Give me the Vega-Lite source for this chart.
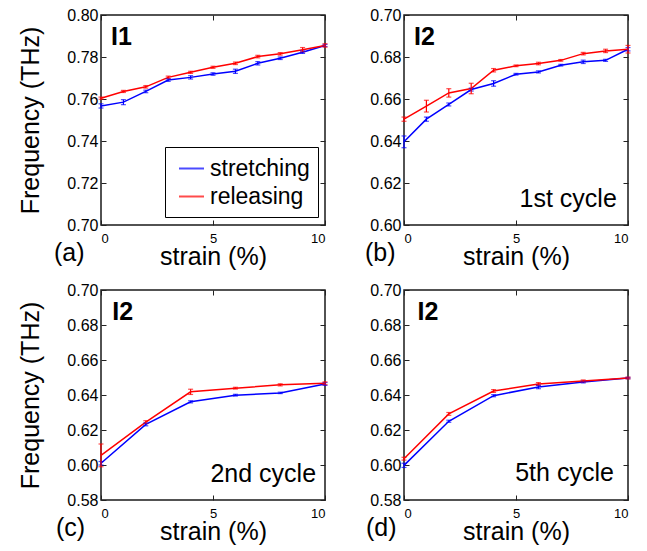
{
  "$schema": "https://vega.github.io/schema/vega-lite/v6.json",
  "padding": {"left": 18, "top": 6, "right": 0, "bottom": 0},
  "config": {
    "font": "Liberation Sans",
    "view": {"stroke": "#1a1a1a", "strokeWidth": 1.5},
    "axis": {"domain": false, "grid": false, "tickColor": "#222", "tickSize": -5, "tickWidth": 1, "labelColor": "black", "titleColor": "black", "labelFont": "Liberation Sans", "titleFont": "Liberation Sans", "titleFontWeight": "normal"},
    "title": {"font": "Liberation Sans", "fontSize": 25, "fontWeight": "normal", "color": "black", "offset": 0, "frame": "group"}
  },
  "datasets": {
    "a": [
      {"series": "stretching", "strain": 0, "freq": 0.7567, "err": 0.001},
      {"series": "stretching", "strain": 1, "freq": 0.7585, "err": 0.0012},
      {"series": "stretching", "strain": 2, "freq": 0.7636, "err": 0.0006},
      {"series": "stretching", "strain": 3, "freq": 0.769, "err": 0.0006},
      {"series": "stretching", "strain": 4, "freq": 0.7703, "err": 0.0008},
      {"series": "stretching", "strain": 5, "freq": 0.7719, "err": 0.0006},
      {"series": "stretching", "strain": 6, "freq": 0.7732, "err": 0.001},
      {"series": "stretching", "strain": 7, "freq": 0.777, "err": 0.0008},
      {"series": "stretching", "strain": 8, "freq": 0.7794, "err": 0.0006},
      {"series": "stretching", "strain": 9, "freq": 0.7823, "err": 0.0006},
      {"series": "stretching", "strain": 10, "freq": 0.7855, "err": 0.0005},
      {"series": "releasing", "strain": 0, "freq": 0.7604, "err": 0.0005},
      {"series": "releasing", "strain": 1, "freq": 0.7636, "err": 0.0005},
      {"series": "releasing", "strain": 2, "freq": 0.7658, "err": 0.0006},
      {"series": "releasing", "strain": 3, "freq": 0.7703, "err": 0.0006},
      {"series": "releasing", "strain": 4, "freq": 0.7727, "err": 0.0005},
      {"series": "releasing", "strain": 5, "freq": 0.7751, "err": 0.0005},
      {"series": "releasing", "strain": 6, "freq": 0.777, "err": 0.0006},
      {"series": "releasing", "strain": 7, "freq": 0.7802, "err": 0.0006},
      {"series": "releasing", "strain": 8, "freq": 0.7815, "err": 0.0006},
      {"series": "releasing", "strain": 9, "freq": 0.7835, "err": 0.001},
      {"series": "releasing", "strain": 10, "freq": 0.7855, "err": 0.0008}
    ],
    "b": [
      {"series": "stretching", "strain": 0, "freq": 0.6396, "err": 0.0028},
      {"series": "stretching", "strain": 1, "freq": 0.6504, "err": 0.001},
      {"series": "stretching", "strain": 2, "freq": 0.6574, "err": 0.0007},
      {"series": "stretching", "strain": 3, "freq": 0.6645, "err": 0.0007},
      {"series": "stretching", "strain": 4, "freq": 0.6674, "err": 0.0013},
      {"series": "stretching", "strain": 5, "freq": 0.6718, "err": 0.0004},
      {"series": "stretching", "strain": 6, "freq": 0.6729, "err": 0.0005},
      {"series": "stretching", "strain": 7, "freq": 0.6761, "err": 0.0004},
      {"series": "stretching", "strain": 8, "freq": 0.6777, "err": 0.0008},
      {"series": "stretching", "strain": 9, "freq": 0.6784, "err": 0.0005},
      {"series": "stretching", "strain": 10, "freq": 0.6837, "err": 0.0008},
      {"series": "releasing", "strain": 0, "freq": 0.6504, "err": 0.001},
      {"series": "releasing", "strain": 1, "freq": 0.6566, "err": 0.0028},
      {"series": "releasing", "strain": 2, "freq": 0.6629, "err": 0.002},
      {"series": "releasing", "strain": 3, "freq": 0.665, "err": 0.0025},
      {"series": "releasing", "strain": 4, "freq": 0.6737, "err": 0.0008},
      {"series": "releasing", "strain": 5, "freq": 0.6758, "err": 0.0004},
      {"series": "releasing", "strain": 6, "freq": 0.6769, "err": 0.0006},
      {"series": "releasing", "strain": 7, "freq": 0.6784, "err": 0.0004},
      {"series": "releasing", "strain": 8, "freq": 0.6816, "err": 0.0006},
      {"series": "releasing", "strain": 9, "freq": 0.6829, "err": 0.0008},
      {"series": "releasing", "strain": 10, "freq": 0.6837, "err": 0.0018}
    ],
    "c": [
      {"series": "stretching", "strain": 0, "freq": 0.601, "err": 0.001},
      {"series": "stretching", "strain": 2, "freq": 0.6232, "err": 0.0008},
      {"series": "stretching", "strain": 4, "freq": 0.6361, "err": 0.0006},
      {"series": "stretching", "strain": 6, "freq": 0.6399, "err": 0.0005},
      {"series": "stretching", "strain": 8, "freq": 0.6412, "err": 0.0004},
      {"series": "stretching", "strain": 10, "freq": 0.6463, "err": 0.0008},
      {"series": "releasing", "strain": 0, "freq": 0.6055, "err": 0.0065},
      {"series": "releasing", "strain": 2, "freq": 0.6245, "err": 0.0008},
      {"series": "releasing", "strain": 4, "freq": 0.6418, "err": 0.0015},
      {"series": "releasing", "strain": 6, "freq": 0.6439, "err": 0.0005},
      {"series": "releasing", "strain": 8, "freq": 0.6458, "err": 0.0006},
      {"series": "releasing", "strain": 10, "freq": 0.6467, "err": 0.0008}
    ],
    "d": [
      {"series": "stretching", "strain": 0, "freq": 0.5998, "err": 0.0012},
      {"series": "stretching", "strain": 2, "freq": 0.625, "err": 0.0006},
      {"series": "stretching", "strain": 4, "freq": 0.6396, "err": 0.0006},
      {"series": "stretching", "strain": 6, "freq": 0.6446, "err": 0.001},
      {"series": "stretching", "strain": 8, "freq": 0.6474, "err": 0.0005},
      {"series": "stretching", "strain": 10, "freq": 0.6497, "err": 0.0004},
      {"series": "releasing", "strain": 0, "freq": 0.6036, "err": 0.0008},
      {"series": "releasing", "strain": 2, "freq": 0.6292, "err": 0.0008},
      {"series": "releasing", "strain": 4, "freq": 0.6423, "err": 0.0008},
      {"series": "releasing", "strain": 6, "freq": 0.6463, "err": 0.0008},
      {"series": "releasing", "strain": 8, "freq": 0.648, "err": 0.0006},
      {"series": "releasing", "strain": 10, "freq": 0.6497, "err": 0.0005}
    ]
  },
  "concat": [
    {
      "width": 224, "height": 210,
      "data": {"name": "a"},
      "title": {"text": "(a)", "orient": "bottom", "anchor": "start", "dx": -47, "dy": -32},
      "layer": [
        {"mark": {"type": "line", "strokeWidth": 1.5},
         "encoding": {
           "x": {"field": "strain", "type": "quantitative", "scale": {"domain": [0, 10], "nice": false}, "axis": {"orient": "bottom", "values": [0, 5, 10], "format": "d", "labelFontSize": 13, "labelPadding": 12, "title": "strain (%)", "titleFontSize": 25, "titlePadding": -1}},
           "y": {"field": "freq", "type": "quantitative", "scale": {"domain": [0.7, 0.8], "nice": false, "zero": false}, "axis": {"orient": "left", "values": [0.7, 0.72, 0.74, 0.76, 0.78, 0.8], "format": ".2f", "labelFontSize": 16, "labelPadding": 8, "title": "Frequency (THz)", "titleFontSize": 25, "titlePadding": 23}},
           "color": {"field": "series", "type": "nominal", "scale": {"domain": ["stretching", "releasing"], "range": ["#0000ff", "#ff0000"]},
             "legend": {"orient": "none", "legendX": 64, "legendY": 132, "title": null, "symbolType": "stroke", "symbolSize": 625, "symbolStrokeWidth": 2, "symbolOffset": 5, "labelFontSize": 23, "labelOffset": 5, "padding": 8, "rowPadding": 2, "strokeColor": "black", "fillColor": "white", "labelFont": "Liberation Sans", "labelColor": "black", "labelLimit": 300}}
         }},
        {"mark": {"type": "errorbar", "ticks": true, "size": 5, "thickness": 1.2},
         "encoding": {
           "x": {"field": "strain", "type": "quantitative", "axis": {"orient": "top", "values": [0, 5, 10], "labels": false, "title": null}},
           "y": {"field": "freq", "type": "quantitative", "axis": {"orient": "right", "values": [0.7, 0.72, 0.74, 0.76, 0.78, 0.8], "labels": false, "title": null}},
           "yError": {"field": "err"},
           "color": {"field": "series", "type": "nominal"}
         }},
        {"data": {"values": [{"label": "I1"}]},
         "mark": {"type": "text", "fontSize": 25, "fontWeight": "bold", "align": "left", "baseline": "top", "color": "black"},
         "encoding": {"x": {"datum": 0.45, "type": "quantitative", "axis": null}, "y": {"datum": 0.7952, "type": "quantitative", "axis": null}, "text": {"field": "label"}}}
      ],
      "resolve": {"axis": {"x": "independent", "y": "independent"}}
    },
    {
      "width": 224, "height": 210,
      "data": {"name": "b"},
      "title": {"text": "(b)", "orient": "bottom", "anchor": "start", "dx": -39, "dy": -32},
      "layer": [
        {"mark": {"type": "line", "strokeWidth": 1.5},
         "encoding": {
           "x": {"field": "strain", "type": "quantitative", "scale": {"domain": [0, 10], "nice": false}, "axis": {"orient": "bottom", "values": [0, 5, 10], "format": "d", "labelFontSize": 13, "labelPadding": 12, "title": "strain (%)", "titleFontSize": 25, "titlePadding": -1}},
           "y": {"field": "freq", "type": "quantitative", "scale": {"domain": [0.6, 0.7], "nice": false, "zero": false}, "axis": {"orient": "left", "values": [0.6, 0.62, 0.64, 0.66, 0.68, 0.7], "format": ".2f", "labelFontSize": 16, "labelPadding": 8, "title": null}},
           "color": {"field": "series", "type": "nominal", "scale": {"domain": ["stretching", "releasing"], "range": ["#0000ff", "#ff0000"]}, "legend": null}
         }},
        {"mark": {"type": "errorbar", "ticks": true, "size": 5, "thickness": 1.2},
         "encoding": {
           "x": {"field": "strain", "type": "quantitative", "axis": {"orient": "top", "values": [0, 5, 10], "labels": false, "title": null}},
           "y": {"field": "freq", "type": "quantitative", "axis": {"orient": "right", "values": [0.6, 0.62, 0.64, 0.66, 0.68, 0.7], "labels": false, "title": null}},
           "yError": {"field": "err"},
           "color": {"field": "series", "type": "nominal", "legend": null}
         }},
        {"data": {"values": [{"label": "I2"}]},
         "mark": {"type": "text", "fontSize": 25, "fontWeight": "bold", "align": "left", "baseline": "top", "color": "black"},
         "encoding": {"x": {"datum": 0.45, "type": "quantitative", "axis": null}, "y": {"datum": 0.6952, "type": "quantitative", "axis": null}, "text": {"field": "label"}}},
        {"data": {"values": [{"label": "1st cycle"}]},
         "mark": {"type": "text", "fontSize": 25, "align": "right", "baseline": "alphabetic", "color": "black"},
         "encoding": {"x": {"datum": 9.5, "type": "quantitative", "axis": null}, "y": {"datum": 0.6085, "type": "quantitative", "axis": null}, "text": {"field": "label"}}}
      ],
      "resolve": {"axis": {"x": "independent", "y": "independent"}}
    },
    {
      "width": 224, "height": 210,
      "data": {"name": "c"},
      "title": {"text": "(c)", "orient": "bottom", "anchor": "start", "dx": -45, "dy": -32},
      "layer": [
        {"mark": {"type": "line", "strokeWidth": 1.5},
         "encoding": {
           "x": {"field": "strain", "type": "quantitative", "scale": {"domain": [0, 10], "nice": false}, "axis": {"orient": "bottom", "values": [0, 5, 10], "format": "d", "labelFontSize": 13, "labelPadding": 12, "title": "strain (%)", "titleFontSize": 25, "titlePadding": -1}},
           "y": {"field": "freq", "type": "quantitative", "scale": {"domain": [0.58, 0.7], "nice": false, "zero": false}, "axis": {"orient": "left", "values": [0.58, 0.6, 0.62, 0.64, 0.66, 0.68, 0.7], "format": ".2f", "labelFontSize": 16, "labelPadding": 8, "title": "Frequency (THz)", "titleFontSize": 25, "titlePadding": 23}},
           "color": {"field": "series", "type": "nominal", "scale": {"domain": ["stretching", "releasing"], "range": ["#0000ff", "#ff0000"]}, "legend": null}
         }},
        {"mark": {"type": "errorbar", "ticks": true, "size": 5, "thickness": 1.2},
         "encoding": {
           "x": {"field": "strain", "type": "quantitative", "axis": {"orient": "top", "values": [0, 5, 10], "labels": false, "title": null}},
           "y": {"field": "freq", "type": "quantitative", "axis": {"orient": "right", "values": [0.58, 0.6, 0.62, 0.64, 0.66, 0.68, 0.7], "labels": false, "title": null}},
           "yError": {"field": "err"},
           "color": {"field": "series", "type": "nominal", "legend": null}
         }},
        {"data": {"values": [{"label": "I2"}]},
         "mark": {"type": "text", "fontSize": 25, "fontWeight": "bold", "align": "left", "baseline": "top", "color": "black"},
         "encoding": {"x": {"datum": 0.5, "type": "quantitative", "axis": null}, "y": {"datum": 0.6943, "type": "quantitative", "axis": null}, "text": {"field": "label"}}},
        {"data": {"values": [{"label": "2nd cycle"}]},
         "mark": {"type": "text", "fontSize": 25, "align": "right", "baseline": "alphabetic", "color": "black"},
         "encoding": {"x": {"datum": 9.6, "type": "quantitative", "axis": null}, "y": {"datum": 0.5901, "type": "quantitative", "axis": null}, "text": {"field": "label"}}}
      ],
      "resolve": {"axis": {"x": "independent", "y": "independent"}}
    },
    {
      "width": 224, "height": 210,
      "data": {"name": "d"},
      "title": {"text": "(d)", "orient": "bottom", "anchor": "start", "dx": -38, "dy": -32},
      "layer": [
        {"mark": {"type": "line", "strokeWidth": 1.5},
         "encoding": {
           "x": {"field": "strain", "type": "quantitative", "scale": {"domain": [0, 10], "nice": false}, "axis": {"orient": "bottom", "values": [0, 5, 10], "format": "d", "labelFontSize": 13, "labelPadding": 12, "title": "strain (%)", "titleFontSize": 25, "titlePadding": -1}},
           "y": {"field": "freq", "type": "quantitative", "scale": {"domain": [0.58, 0.7], "nice": false, "zero": false}, "axis": {"orient": "left", "values": [0.58, 0.6, 0.62, 0.64, 0.66, 0.68, 0.7], "format": ".2f", "labelFontSize": 16, "labelPadding": 8, "title": null}},
           "color": {"field": "series", "type": "nominal", "scale": {"domain": ["stretching", "releasing"], "range": ["#0000ff", "#ff0000"]}, "legend": null}
         }},
        {"mark": {"type": "errorbar", "ticks": true, "size": 5, "thickness": 1.2},
         "encoding": {
           "x": {"field": "strain", "type": "quantitative", "axis": {"orient": "top", "values": [0, 5, 10], "labels": false, "title": null}},
           "y": {"field": "freq", "type": "quantitative", "axis": {"orient": "right", "values": [0.58, 0.6, 0.62, 0.64, 0.66, 0.68, 0.7], "labels": false, "title": null}},
           "yError": {"field": "err"},
           "color": {"field": "series", "type": "nominal", "legend": null}
         }},
        {"data": {"values": [{"label": "I2"}]},
         "mark": {"type": "text", "fontSize": 25, "fontWeight": "bold", "align": "left", "baseline": "top", "color": "black"},
         "encoding": {"x": {"datum": 0.6, "type": "quantitative", "axis": null}, "y": {"datum": 0.6943, "type": "quantitative", "axis": null}, "text": {"field": "label"}}},
        {"data": {"values": [{"label": "5th cycle"}]},
         "mark": {"type": "text", "fontSize": 25, "align": "right", "baseline": "alphabetic", "color": "black"},
         "encoding": {"x": {"datum": 9.37, "type": "quantitative", "axis": null}, "y": {"datum": 0.5907, "type": "quantitative", "axis": null}, "text": {"field": "label"}}}
      ],
      "resolve": {"axis": {"x": "independent", "y": "independent"}}
    }
  ],
  "columns": 2,
  "spacing": {"row": 65, "column": 79},
  "bounds": "flush",
  "resolve": {"scale": {"color": "independent"}, "legend": {"color": "independent"}}
}
